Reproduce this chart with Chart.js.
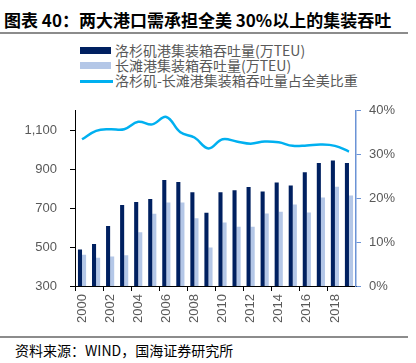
<!DOCTYPE html>
<html>
<head>
<meta charset="utf-8">
<script src="https://cdn.jsdelivr.net/npm/chart.js@4.4.1/dist/chart.umd.min.js"></script>
<style>
  html, body { margin: 0; padding: 0; background: #fff; }
  body { width: 416px; height: 363px; position: relative; overflow: hidden; font-family: "Noto Sans CJK SC", sans-serif; }
  .title { position: absolute; left: 4px; top: 7px; font-size: 17px; font-weight: bold; color: #000; white-space: nowrap; }
  .rule { position: absolute; left: 0; width: 408px; height: 2px; background: #8c8c8c; }
  .source { position: absolute; left: 15px; top: 340px; font-size: 14px; color: #000; white-space: nowrap; }
  .leg { position: absolute; left: 80px; font-size: 14px; color: #595959; white-space: nowrap; height: 16px; line-height: 16px; }
  .leg span.mk { position: absolute; left: 0; }
  .leg span.tx { position: absolute; left: 35px; top: 0; }
  #chart { position: absolute; left: 0; top: 90px; }
</style>
</head>
<body>
<div class="title">图表 40：两大港口需承担全美 30%以上的集装吞吐</div>
<div class="rule" style="top:32px"></div>

<div class="leg" style="top:42px"><span class="mk" style="top:5px;width:31px;height:7px;background:#002060"></span><span class="tx">洛杉矶港集装箱吞吐量(万TEU)</span></div>
<div class="leg" style="top:57px"><span class="mk" style="top:5px;width:31px;height:7px;background:#B4C7E7"></span><span class="tx">长滩港集装箱吞吐量(万TEU)</span></div>
<div class="leg" style="top:72px"><span class="mk" style="top:8px;width:33px;height:3px;background:#00B0F0"></span><span class="tx">洛杉矶-长滩港集装箱吞吐量占全美比重</span></div>

<canvas id="chart" width="416" height="245"></canvas>

<div class="rule" style="top:336px"></div>
<div class="source">资料来源：WIND，国海证券研究所</div>

<script>
var years = ['2000','2001','2002','2003','2004','2005','2006','2007','2008','2009',
             '2010','2011','2012','2013','2014','2015','2016','2017','2018','2019'];
// 万TEU
var laPort = [488, 516, 608, 716, 732, 747, 845, 834, 782, 676,
              782, 792, 808, 786, 832, 816, 884, 932, 945, 932];
var lbPort = [460, 445, 452, 458, 576, 671, 729, 729, 648, 498,
              626, 605, 605, 673, 682, 719, 678, 755, 810, 765];
// share of US total, %
var sharePct = [33.5, 35.4, 35.8, 35.8, 37.5, 36.9, 38.6, 35.1, 33.9, 31.4,
                33.5, 33.0, 32.5, 33.0, 32.8, 32.0, 32.1, 32.3, 32.0, 30.7];
var leftTicks = [300, 500, 700, 900, 1100];

var tickFont = { family: '"Liberation Sans", sans-serif', size: 13 };
var grey = '#595959';

new Chart(document.getElementById('chart').getContext('2d'), {
  type: 'bar',
  data: {
    labels: years,
    datasets: [
      {
        type: 'line',
        label: '洛杉矶-长滩港集装箱吞吐量占全美比重',
        data: sharePct,
        yAxisID: 'y1',
        borderColor: '#00B0F0',
        borderWidth: 2.5,
        pointRadius: 0,
        tension: 0.4,
        fill: false,
        order: 0
      },
      {
        label: '洛杉矶港集装箱吞吐量(万TEU)',
        data: laPort,
        yAxisID: 'y',
        backgroundColor: '#002060',
        categoryPercentage: 0.58,
        barPercentage: 1.0,
        order: 1
      },
      {
        label: '长滩港集装箱吞吐量(万TEU)',
        data: lbPort,
        yAxisID: 'y',
        backgroundColor: '#B4C7E7',
        categoryPercentage: 0.58,
        barPercentage: 1.0,
        order: 1
      }
    ]
  },
  options: {
    responsive: false,
    animation: false,
    devicePixelRatio: 1,
    layout: { padding: { top: 10, left: 0, right: 0, bottom: 0 } },
    plugins: {
      legend: { display: false },
      tooltip: { enabled: false }
    },
    scales: {
      x: {
        offset: true,
        grid: {
          offset: true,
          drawOnChartArea: false,
          drawTicks: true,
          tickLength: 5,
          tickColor: function(ctx) { return ctx.index % 2 === 0 ? '#000' : 'rgba(0,0,0,0)'; }
        },
        border: { color: '#000', width: 1 },
        ticks: {
          autoSkip: false,
          maxRotation: 90,
          minRotation: 90,
          padding: 3,
          color: grey,
          font: tickFont,
          callback: function(v, i) { return i % 2 === 0 ? years[i] : ''; }
        },
        afterFit: function(s) { s.height = 49; }
      },
      y: {
        position: 'left',
        min: 300,
        max: 1200,
        ticks: {
          padding: 13,
          color: grey,
          font: tickFont,
          callback: function(v) { return v.toLocaleString('en-US'); }
        },
        afterBuildTicks: function(axis) {
          axis.ticks = leftTicks.map(function(v) { return { value: v }; });
        },
        grid: { drawOnChartArea: false, tickLength: 5, tickColor: '#000' },
        border: { color: '#000', width: 1 },
        afterFit: function(s) { s.width = 75; }
      },
      y1: {
        position: 'right',
        min: 0,
        max: 40,
        ticks: {
          stepSize: 10,
          padding: 8,
          color: grey,
          font: tickFont,
          callback: function(v) { return v + '%'; }
        },
        grid: { drawOnChartArea: false, tickLength: 5, tickColor: '#6B93D6' },
        border: { color: '#6B93D6', width: 1.5 },
        afterFit: function(s) { s.width = 60; }
      }
    }
  }
});
</script>
</body>
</html>
